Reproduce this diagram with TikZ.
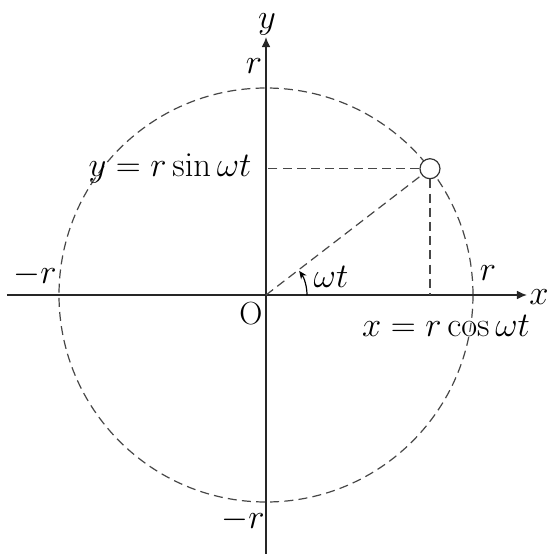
\documentclass[tikz,border=0pt]{standalone}
\usetikzlibrary{arrows.meta,calc}
\begin{document}
\begin{tikzpicture}[x=0.5pt,y=0.5pt,
  axis/.style={line width=0.75pt,black!85,-{Latex[length=5pt,width=4.4pt]}},
  guide/.style={line width=0.6pt,black!72,dash pattern=on 4.5pt off 2.6pt},
  lbl/.style={inner sep=0pt,font=\fontsize{16}{19}\selectfont}]
\useasboundingbox (-266,-259) rectangle (283,295);
% circle
\draw[guide] (0,0) circle[radius=207];
% axes
\coordinate (xs) at (-259,0);
\coordinate (xe) at (261,0);
\coordinate (ys) at (0,-259);
\coordinate (ye) at (0,258);
\draw[axis] (xs) -- (xe);
\draw[axis] (ys) -- (ye);
\coordinate (O) at (0,0);
% point
\node[circle,draw=black!80,line width=0.6pt,fill=white,minimum size=10pt,inner sep=0pt] (P) at (37.6:207) {};
\coordinate (Px) at (P |- O);
\coordinate (Py) at (P -| O);
\draw[guide] (O) -- (P);
\draw[guide] (P) -- (Px);
\draw[guide] (P) -- (Py);
% angle
\draw[line width=0.6pt,-{Stealth[length=4pt,width=3.4pt]}] (41,0) arc[start angle=0,end angle=36,radius=41];
% labels
\node[lbl] (ly) at (1,271) {$y$};
\node[lbl] (lx) at (273,-2) {$x$};
\node[lbl] (rt) at (-12,229) {$r$};
\node[lbl] (rb) at (-23,-225) {$-r$};
\node[lbl] (rl) at (-231,20) {$-r$};
\node[lbl] (rr) at (222,22) {$r$};
\node[lbl] (lO) at (-15,-19) {O};
\node[lbl] (lw) at (65,18) {$\omega t$};
\node[lbl] (lxc) at (180,-31) {$x = r\cos\omega t$};
\node[lbl] (lys) at (-96,126) {$y = r\sin\omega t$};
\end{tikzpicture}
\end{document}
